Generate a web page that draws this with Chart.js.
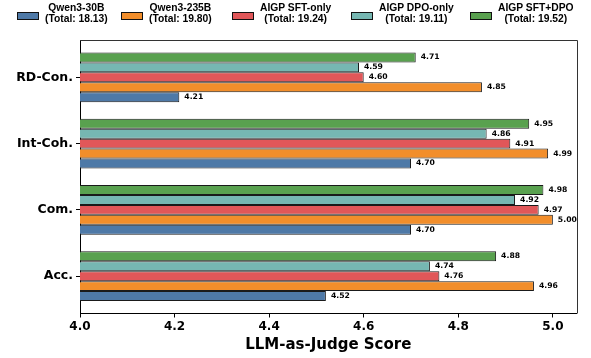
<!DOCTYPE html>
<html>
<head>
<meta charset="utf-8">
<script src="https://cdn.jsdelivr.net/npm/chart.js@4"></script>
<style>
  html, body { margin: 0; padding: 0; background: #fff; }
  #wrap { position: relative; width: 591px; height: 358px; }
  #chart { position: absolute; left: 0; top: 0; }
  .lg { position: absolute; top: 2px; display: flex; align-items: flex-start;
        font: bold 10.3px "Liberation Sans", Arial, sans-serif; line-height: 11px; color: #000; }
  .lg .sw { box-sizing: border-box; width: 22px; height: 8px; border: 1px solid #111;
            margin-top: 10px; margin-right: 6px; }
  .lg .tx { text-align: center; white-space: nowrap; }
</style>
</head>
<body>
<div id="wrap">
  <canvas id="chart" width="591" height="358"></canvas>
  <div id="legend"></div>
</div>
<script>
// Evaluation dimensions (top to bottom)
const categories = ['RD-Con.', 'Int-Coh.', 'Com.', 'Acc.'];

// LLM-as-Judge scores per model, in category order
const qwen30b  = [4.21, 4.70, 4.70, 4.52];
const qwen235b = [4.85, 4.99, 5.00, 4.96];
const sftOnly  = [4.60, 4.91, 4.97, 4.76];
const dpoOnly  = [4.59, 4.86, 4.92, 4.74];
const sftDpo   = [4.71, 4.95, 4.98, 4.88];

const seriesNames = ['Qwen3-30B', 'Qwen3-235B', 'AIGP SFT-only', 'AIGP DPO-only', 'AIGP SFT+DPO'];
const seriesValues = [qwen30b, qwen235b, sftOnly, dpoOnly, sftDpo];
const xTicks = [4.0, 4.2, 4.4, 4.6, 4.8, 5.0];

const seriesColors = ['#4e79a7', '#f28e2b', '#e15759', '#76b7b2', '#59a14f'];
const legendLeft = [17, 121, 232, 351, 470];

// Legend: swatch + two-line centred label with the summed score
const legendEl = document.getElementById('legend');
seriesNames.forEach((name, k) => {
  const total = seriesValues[k].reduce((a, b) => a + b, 0).toFixed(2);
  const item = document.createElement('div');
  item.className = 'lg';
  item.style.left = legendLeft[k] + 'px';
  item.innerHTML = '<span class="sw" style="background:' + seriesColors[k] + '"></span>' +
                   '<span class="tx">' + name + '<br>(Total: ' + total + ')</span>';
  legendEl.appendChild(item);
});

// Bars are stacked into each group top-down, so the last series goes first
const order = [4, 3, 2, 1, 0];
const datasets = order.map(k => ({
  label: seriesNames[k],
  data: seriesValues[k].map((v, i) => ({ x: v, y: i })),
  backgroundColor: seriesColors[k],
  borderColor: '#1a1a1a',
  borderWidth: 1,
  borderSkipped: false,
  categoryPercentage: 0.75,
  barPercentage: 1.0
}));

const tickFont = { family: 'DejaVu Sans', weight: 'bold', size: 12 };

// Value printed just past the end of each bar
const valueLabels = {
  id: 'valueLabels',
  afterDatasetsDraw(chart) {
    const ctx = chart.ctx;
    ctx.save();
    ctx.font = 'bold 7.7px "DejaVu Sans"';
    ctx.fillStyle = '#000';
    ctx.textAlign = 'left';
    ctx.textBaseline = 'middle';
    chart.data.datasets.forEach((ds, di) => {
      chart.getDatasetMeta(di).data.forEach((bar, i) => {
        ctx.fillText(ds.data[i].x.toFixed(2), bar.x + 5, bar.y);
      });
    });
    ctx.restore();
  }
};

// Top and right edges of the plotting frame
const frame = {
  id: 'frame',
  afterDraw(chart) {
    const { left, top, right, bottom } = chart.chartArea;
    const ctx = chart.ctx;
    ctx.save();
    ctx.strokeStyle = '#333';
    ctx.lineWidth = 1;
    ctx.beginPath();
    ctx.moveTo(left, Math.round(top) + 0.5);
    ctx.lineTo(Math.round(right) + 0.5, Math.round(top) + 0.5);
    ctx.lineTo(Math.round(right) + 0.5, bottom);
    ctx.stroke();
    ctx.restore();
  }
};

new Chart(document.getElementById('chart'), {
  type: 'bar',
  data: { datasets },
  plugins: [valueLabels, frame],
  options: {
    indexAxis: 'y',
    responsive: false,
    animation: false,
    devicePixelRatio: 1,
    layout: { padding: { top: 40, right: 14.5, bottom: 0, left: 0 } },
    plugins: { legend: { display: false }, tooltip: { enabled: false } },
    scales: {
      x: {
        type: 'linear',
        min: 4.0,
        max: 5.05,
        afterBuildTicks: s => { s.ticks = xTicks.map(v => ({ value: v })); },
        ticks: { callback: v => v.toFixed(1), font: tickFont, color: '#000', padding: 2, maxRotation: 0 },
        grid: { drawOnChartArea: false, drawTicks: true, tickLength: 4, color: '#000' },
        border: { display: true, color: '#000', width: 1 },
        title: {
          display: true,
          text: 'LLM-as-Judge Score',
          font: { family: 'DejaVu Sans', weight: 'bold', size: 15 },
          color: '#000',
          padding: { top: 2, bottom: 4 }
        },
        afterFit: s => { s.height = 44.5; }
      },
      y: {
        type: 'linear',
        reverse: true,
        offset: false,
        // half a category plus a small margin on each side
        min: -0.5625,
        max: 3.5625,
        afterBuildTicks: s => { s.ticks = categories.map((_, i) => ({ value: i })); },
        ticks: { callback: v => categories[v], font: { family: 'DejaVu Sans', weight: 'bold', size: 12.5 }, color: '#000', padding: 3 },
        grid: { offset: false, drawOnChartArea: false, drawTicks: true, tickLength: 4, color: '#000' },
        border: { display: true, color: '#000', width: 1 },
        afterFit: s => { s.width = 80; }
      }
    }
  }
});
</script>
</body>
</html>
